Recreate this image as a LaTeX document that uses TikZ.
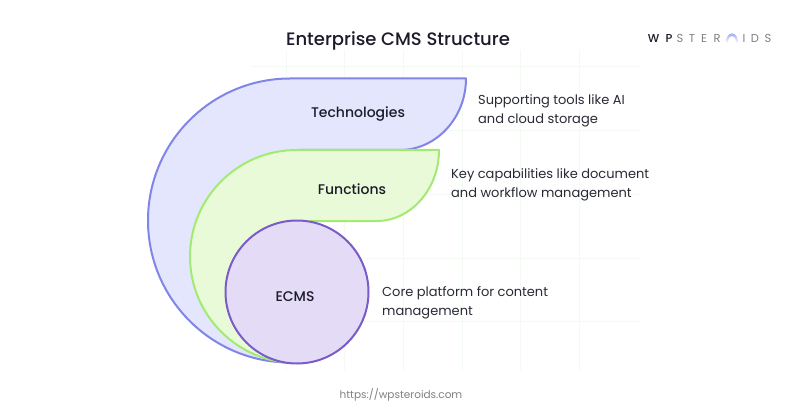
\documentclass[tikz,border=0pt]{standalone}
\usepackage{fontspec}
\setmainfont{Poppins}[BoldFont={Poppins Medium}]
\definecolor{inkc}{HTML}{1B1B2B}
\definecolor{bodyc}{HTML}{2A2A35}
\definecolor{techfill}{HTML}{E4E6FD}
\definecolor{techline}{HTML}{8085E6}
\definecolor{funcfill}{HTML}{E8FAD8}
\definecolor{funcline}{HTML}{A3EA72}
\definecolor{corefill}{HTML}{E4DCF6}
\definecolor{coreline}{HTML}{7A5CC8}
\definecolor{gridc}{HTML}{F2FAF3}
\begin{document}
\begin{tikzpicture}[x=1pt,y=-1pt,
  gridline/.style={draw=gridc,line width=0.7pt},
  blob/.style={line width=2pt,line join=round},
  label/.style={font=\fontsize{14}{14}\selectfont\bfseries,text=inkc,inner sep=0pt},
  desc/.style={font=\fontsize{13}{19.5}\selectfont,text=bodyc,align=left,anchor=west,inner sep=0pt},
  logo/.style={font=\fontsize{11.5}{12}\selectfont,text=#1,inner sep=0pt},
  logo/.default=inkc]
\useasboundingbox (0,0) rectangle (806,409);
\fill[white] (0,0) rectangle (806,409);
% faint background grid
\foreach \yy in {66,130,194,258,321} \draw[gridline] (250,\yy) -- (640,\yy);
\foreach \xx in {286,344,403,462,520,579} \draw[gridline] (\xx,50) -- (\xx,370);
% Technologies
\path[blob,draw=techline,fill=techfill] (466,78.5) -- (290,78.5)
  .. controls (211.6,78.5) and (148,142.1) .. (148,220.5)
  .. controls (148,298.9) and (211.6,362.5) .. (290,362.5)
  -- (300,300) -- (300,150) -- (400,150)
  .. controls (436,150) and (466,118) .. (466,78.5) -- cycle;
% Functions
\path[blob,draw=funcline,fill=funcfill] (439,150) -- (296.5,150)
  .. controls (237.7,150) and (190,197.7) .. (190,256.5)
  .. controls (190,315.3) and (237.7,363) .. (296.5,363)
  -- (310,221) -- (377,221)
  .. controls (410,221) and (439,190) .. (439,150) -- cycle;
% ECMS
\node[circle,minimum size=143pt,inner sep=0pt,line width=2pt,draw=coreline,fill=corefill] (core) at (297,292) {};
\node[label] (tech) at (358,114) {Technologies};
\node[label] (func) at (352,189.5) {Functions};
\node[label] (ecms) at (295,296.5) {ECMS};
\node[desc] (d1) at (478,111) {Supporting tools like AI\\and cloud storage};
\node[desc] (d2) at (451,185) {Key capabilities like document\\and workflow management};
\node[desc] (d3) at (382,303) {Core platform for content\\management};
\node[font=\fontsize{18}{18}\selectfont\bfseries,text=inkc,inner sep=0pt] (title) at (398,41) {Enterprise CMS Structure};
\node[font=\fontsize{10.5}{11}\selectfont,text=gray,inner sep=0pt] (url) at (401,395) {https://wpsteroids.com};
% logo
\node[logo,font=\fontsize{11.5}{12}\selectfont\bfseries] (l1) at (653.5,38.5) {W};
\node[logo,font=\fontsize{11.5}{12}\selectfont\bfseries] (l2) at (669,38.5) {P};
\node[logo=gray] (l3) at (680,38.5) {S};
\node[logo=gray] (l4) at (692,38.5) {T};
\node[logo=gray] (l5) at (704,38.5) {E};
\node[logo=gray] (l6) at (717,38.5) {R};
\path[top color=techline!70,bottom color=white,draw=none] (726,43) .. controls (726,36) and (729,33.5) .. (732,33.5) .. controls (735,33.5) and (738,36) .. (738,43) -- (736,43) .. controls (736,38) and (734,36) .. (732,36) .. controls (730,36) and (728,38) .. (728,43) -- cycle;
\node[logo=gray] (l7) at (744,38.5) {I};
\node[logo=gray] (l8) at (755,38.5) {D};
\node[logo=gray] (l9) at (768,38.5) {S};
\end{tikzpicture}
\end{document}
